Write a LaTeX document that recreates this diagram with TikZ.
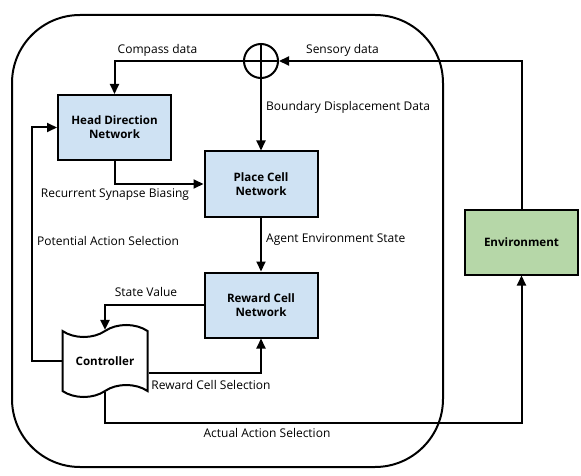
\documentclass[tikz,border=0pt]{standalone}
\usepackage{fontspec}
\setmainfont{Open Sans}
\usetikzlibrary{shapes.symbols,arrows.meta,calc}
\definecolor{boxblue}{RGB}{207,226,243}
\definecolor{boxgreen}{RGB}{182,215,168}
\tikzset{
  netbox/.style={draw=black, line width=2pt, fill=boxblue, minimum width=113pt, minimum height=65pt, align=center, font=\fontsize{11.6}{14}\selectfont\bfseries, inner sep=0pt},
  envbox/.style={netbox, fill=boxgreen},
  conn/.style={line width=2pt, -{Triangle[length=10pt,width=9pt]}},
  lbl/.style={font=\fontsize{12}{14}\selectfont, inner sep=0pt},
}
\begin{document}
\begin{tikzpicture}[x=1pt,y=-1pt]
\useasboundingbox (0,0) rectangle (581,476);
\draw[line width=2pt, rounded corners=68pt] (12,15) rectangle (443,467);
\node[draw, circle, line width=2pt, minimum size=34pt, inner sep=0pt] (sum) at (261,61) {};
\draw[line width=1.6pt] (sum.north) -- (sum.south) (sum.west) -- (sum.east);
\node[netbox] (hd) at (114.5,127.5) {Head Direction\\Network};
\node[netbox] (pc) at (261,184) {Place Cell\\Network};
\node[netbox] (rc) at (261,305) {Reward Cell\\Network};
\node[envbox] (env) at (521.5,242) {Environment};
\node[draw, tape, line width=2pt, fill=white, tape bend height=12pt, minimum width=85pt, minimum height=72pt, font=\fontsize{11.6}{14}\selectfont\bfseries, inner sep=0pt] (ctrl) at (105,361) {Controller};
% connectors
\draw[conn] (env.north) |- (sum.east);
\draw[conn] (sum.west) -| (hd.north);
\draw[conn] (sum.south) -- (pc.north);
\draw[conn] (hd.south) |- (pc.west);
\draw[conn] (pc.south) -- (rc.north);
\draw[conn] (rc.west) -| (ctrl.north);
\coordinate (pa) at (32,127.5);
\draw[conn] (ctrl.west) -| (pa) -- (hd.west);
\draw[conn] ([yshift=-12pt]ctrl.east) -| (rc.south);
\coordinate (aa) at (105,423);
\draw[conn] (ctrl.south) -- (aa) -| (env.south);
% labels
\node[lbl] at (157.5,50) {Compass data};
\node[lbl] at (342.5,50) {Sensory data};
\node[lbl, anchor=west] at (266,107) {Boundary Displacement Data};
\node[lbl] at (115,195) {Recurrent Synapse Biasing};
\node[lbl, anchor=west] at (37,241) {Potential Action Selection};
\node[lbl, anchor=west] at (266,240) {Agent Environment State};
\node[lbl] at (146,292) {State Value};
\node[lbl] at (211,385) {Reward Cell Selection};
\node[lbl] at (267,433) {Actual Action Selection};
\end{tikzpicture}
\end{document}
